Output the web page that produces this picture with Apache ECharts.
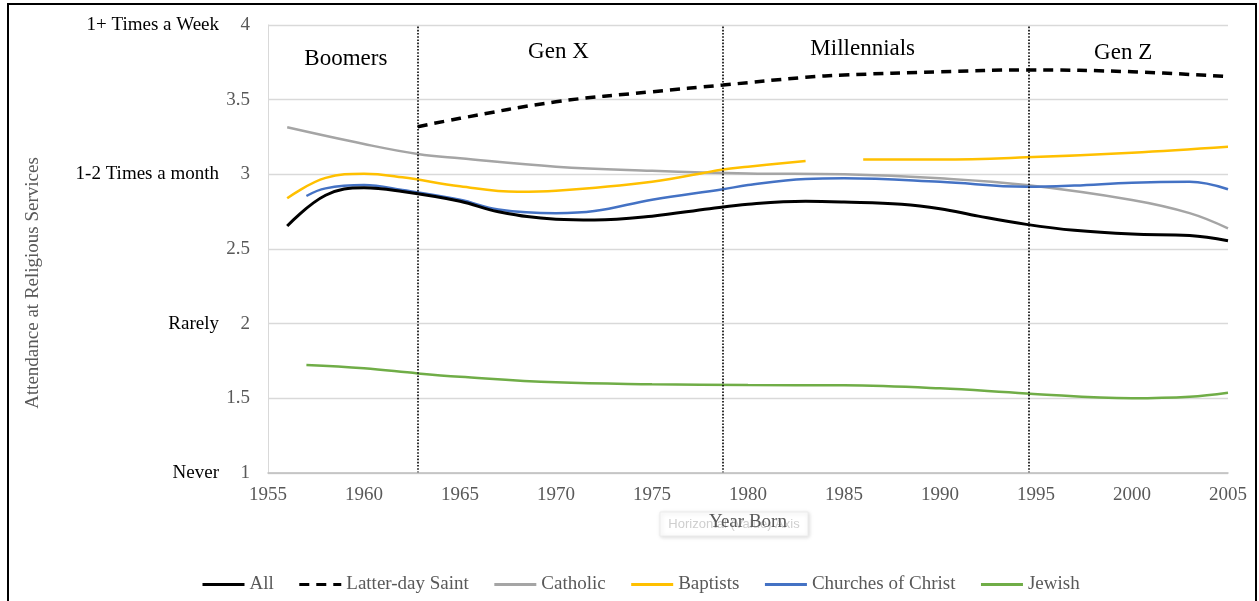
<!DOCTYPE html>
<html>
<head>
    <meta charset="utf-8">
    <title>Attendance at Religious Services by Year Born</title>
    <script src="https://cdn.jsdelivr.net/npm/echarts@6/dist/echarts.min.js"></script>
    <style>
        body { margin: 0; background: #fff; }
        #chart { width: 1259px; height: 601px; }
    </style>
</head>
<body>
<div id="chart"></div>
<script>
    // data
    const allYears = [1956, 1958, 1960, 1962, 1965, 1967, 1970, 1972, 1975, 1978, 1980, 1983, 1985, 1988, 1990, 1992, 1994.5, 1997, 2000, 2003, 2005];
    const allVals = [2.654, 2.86, 2.91, 2.885, 2.82, 2.75, 2.70, 2.695, 2.72, 2.77, 2.80, 2.82, 2.815, 2.80, 2.77, 2.72, 2.665, 2.625, 2.60, 2.59, 2.555];

    const ldsYears = [1962.8, 1965, 1970, 1975, 1978.7, 1983, 1985, 1990, 1994.5, 2000, 2005];
    const ldsVals = [3.319, 3.375, 3.486, 3.553, 3.598, 3.65, 3.665, 3.687, 3.699, 3.687, 3.654];

    const catholicYears = [1956, 1960, 1962.8, 1965, 1970, 1975, 1980, 1985, 1990, 1994.5, 2000, 2003, 2005];
    const catholicVals = [3.315, 3.203, 3.136, 3.107, 3.051, 3.024, 3.006, 3.0, 2.973, 2.928, 2.828, 2.74, 2.638];

    // null = gap in the line
    const baptistYears = [1956, 1958, 1960, 1962, 1965, 1968, 1970, 1975, 1978.7, 1980, 1983, 1984.5, 1986, 1990, 1994.5, 2000, 2005];
    const baptistVals = [2.84, 2.976, 3.004, 2.98, 2.92, 2.883, 2.89, 2.95, 3.033, 3.051, 3.089, null, 3.10, 3.10, 3.114, 3.145, 3.185];

    const cocYears = [1957, 1958, 1960, 1962, 1965, 1967, 1970, 1972, 1975, 1978.7, 1980, 1983, 1985, 1990, 1994.5, 1997, 2000, 2003, 2005];
    const cocVals = [2.855, 2.906, 2.928, 2.895, 2.83, 2.765, 2.74, 2.754, 2.83, 2.90, 2.928, 2.968, 2.973, 2.95, 2.917, 2.925, 2.944, 2.95, 2.9];

    const jewishYears = [1957, 1960, 1962.8, 1965, 1970, 1975, 1980, 1985, 1990, 1994.5, 2000, 2003, 2005];
    const jewishVals = [1.723, 1.701, 1.667, 1.645, 1.607, 1.594, 1.589, 1.587, 1.567, 1.533, 1.50, 1.51, 1.537];

    const genNames = ['Boomers', 'Gen X', 'Millennials', 'Gen Z'];
    const genBounds = [1962.8, 1978.7, 1994.6];

    const yCatValues = [1, 2, 3, 4];
    const yCatLabels = ['Never', 'Rarely', '1-2 Times a month', '1+ Times a Week'];

    const xMin = 1955, xMax = 2005;
    const serif = '"Liberation Serif", "Times New Roman", serif';
    const grey = '#595959';

    const pairs = (xs, ys) => xs.map((x, i) => [x, ys[i] === null ? '-' : ys[i]]);

    // generation spans, label nudges to sit like the text boxes in the original
    const edges = [xMin, ...genBounds, xMax];
    const labelNudge = [[3, 7], [-12, 0], [-13, -3], [-5, 1]];
    const genAreas = genNames.map((name, i) => [
        { name: name, xAxis: edges[i], label: { offset: labelNudge[i] } },
        { xAxis: edges[i + 1] }
    ]);

    const lineSeries = (name, xs, ys, color, width, type) => ({
        name: name,
        type: 'line',
        data: pairs(xs, ys),
        smooth: 0.4,
        symbol: 'none',
        connectNulls: false,
        lineStyle: { color: color, width: width, type: type || 'solid' },
        itemStyle: { color: color },
        z: 3
    });

    const chart = echarts.init(document.getElementById('chart'));

    const allSeries = lineSeries('All', allYears, allVals, '#000000', 3);
    allSeries.z = 4;
    allSeries.markLine = {
        silent: true,
        symbol: 'none',
        label: { show: false },
        lineStyle: { color: '#000', type: 'dotted', width: 1.6 },
        data: genBounds.map(x => ({ xAxis: x }))
    };
    allSeries.markArea = {
        silent: true,
        itemStyle: { color: 'rgba(0,0,0,0)' },
        label: {
            show: true,
            position: 'insideTop',
            distance: 15,
            color: '#000',
            fontFamily: serif,
            fontSize: 23
        },
        data: genAreas
    };

    const option = {
        animation: false,
        textStyle: { fontFamily: serif },
        grid: { left: 268, right: 31, top: 25, bottom: 128 },
        xAxis: {
            type: 'value',
            min: xMin,
            max: xMax,
            interval: 5,
            z: 10,
            name: 'Year Born',
            nameLocation: 'middle',
            nameGap: 40,
            nameTextStyle: { color: grey, fontFamily: serif, fontSize: 19 },
            axisLine: { lineStyle: { color: '#bfbfbf', width: 1.5 } },
            axisTick: { show: false },
            splitLine: { show: false },
            axisLabel: {
                color: grey,
                fontFamily: serif,
                fontSize: 19,
                margin: 13,
                formatter: v => String(v)
            }
        },
        yAxis: [{
            type: 'value',
            min: 1,
            max: 4,
            interval: 0.5,
            axisLine: { show: true, lineStyle: { color: '#d9d9d9' } },
            axisTick: { show: false },
            splitLine: { lineStyle: { color: '#d9d9d9', width: 1.3 } },
            axisLabel: { color: grey, fontFamily: serif, fontSize: 19, margin: 18 }
        }, {
            type: 'value',
            position: 'left',
            min: 1,
            max: 4,
            interval: 1,
            axisLine: { show: false },
            axisTick: { show: false },
            splitLine: { show: false },
            axisLabel: {
                color: '#000',
                fontFamily: serif,
                fontSize: 19,
                margin: 49,
                formatter: v => {
                    const i = yCatValues.indexOf(v);
                    return i >= 0 ? yCatLabels[i] : '';
                }
            }
        }],
        legend: {
            left: 196,
            top: 570,
            itemWidth: 42,
            itemHeight: 14,
            itemGap: 24,
            itemStyle: { opacity: 0 },
            lineStyle: { width: 3 },
            textStyle: { color: grey, fontFamily: serif, fontSize: 19 },
            data: ['All', 'Latter-day Saint', 'Catholic', 'Baptists', 'Churches of Christ', 'Jewish']
        },
        series: [
            allSeries,
            lineSeries('Latter-day Saint', ldsYears, ldsVals, '#000000', 3.5, [10, 7]),
            lineSeries('Catholic', catholicYears, catholicVals, '#a5a5a5', 2.5),
            lineSeries('Baptists', baptistYears, baptistVals, '#ffc000', 2.5),
            lineSeries('Churches of Christ', cocYears, cocVals, '#4472c4', 2.5),
            lineSeries('Jewish', jewishYears, jewishVals, '#70ad47', 2.5)
        ],
        graphic: [{
            type: 'rect',
            shape: { x: 8, y: 4, width: 1248, height: 604 },
            style: { fill: 'none', stroke: '#000', lineWidth: 2 },
            silent: true
        }, {
            type: 'text',
            x: 33,
            y: 283,
            rotation: Math.PI / 2,
            style: {
                text: 'Attendance at Religious Services',
                fill: grey,
                font: '19px "Liberation Serif", serif',
                textAlign: 'center',
                textVerticalAlign: 'middle'
            },
            silent: true
        }, {
            type: 'group',
            z: -1,
            silent: true,
            children: [{
                type: 'rect',
                shape: { x: 660, y: 512, width: 148, height: 24 },
                style: {
                    fill: '#fff',
                    stroke: '#ececec',
                    shadowBlur: 4,
                    shadowColor: 'rgba(0,0,0,0.15)',
                    shadowOffsetX: 1,
                    shadowOffsetY: 1
                }
            }, {
                type: 'text',
                x: 734,
                y: 524,
                style: {
                    text: 'Horizontal (Value) Axis',
                    fill: '#cfcfcf',
                    font: '13px "Liberation Sans", Arial, sans-serif',
                    textAlign: 'center',
                    textVerticalAlign: 'middle'
                }
            }]
        }]
    };

    chart.setOption(option);
</script>
</body>
</html>
